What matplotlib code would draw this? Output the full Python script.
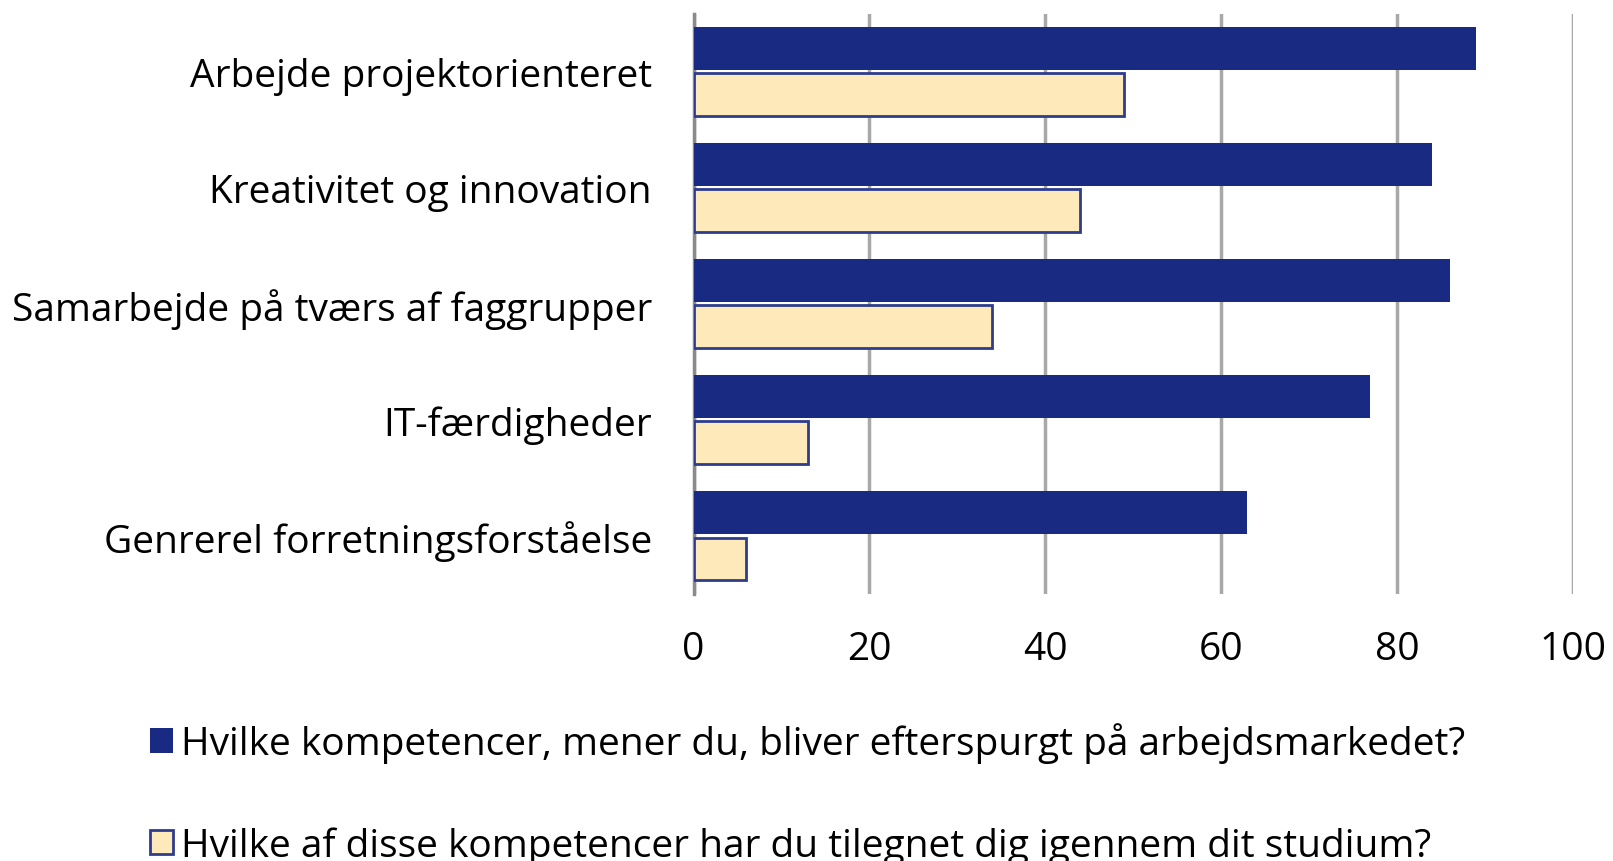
import matplotlib.pyplot as plt
import numpy as np

# Data ------------------------------------------------------------------------
kompetencer = ['Arbejde projektorienteret', 'Kreativitet og innovation',
               'Samarbejde på tværs af faggrupper', 'IT-færdigheder',
               'Genrerel forretningsforståelse']
efterspurgt = [89, 84, 86, 77, 63]
tilegnet = [49, 44, 34, 13, 6]
serie_navne = ['Hvilke kompetencer, mener du, bliver efterspurgt på arbejdsmarkedet?',
               'Hvilke af disse kompetencer har du tilegnet dig igennem dit studium?']
x_ticks = [0, 20, 40, 60, 80, 100]

plt.rcParams['font.family'] = ['Open Sans', 'DejaVu Sans']

# Build Plot ------------------------------------------------------------------
fig = plt.figure(figsize=(16.13, 8.62), dpi=100)
ax = fig.add_axes([0.430, 0.310, 0.545, 0.673])

y_pos = np.arange(len(kompetencer))
h = 0.37
b1 = ax.barh(y_pos - 0.2, efterspurgt, height=h, color='#182A82', zorder=3,
             label=serie_navne[0])
b2 = ax.barh(y_pos + 0.2, tilegnet, height=h, color='#FDE9BA', edgecolor='#2E3C8E',
             linewidth=2, zorder=3, label=serie_navne[1])

ax.set_xlim(0, 100)
ax.set_ylim(len(kompetencer) - 0.5, -0.5)
ax.set_xticks(x_ticks)
ax.set_yticks(y_pos)
ax.set_yticklabels(kompetencer)
ax.tick_params(axis='both', length=0, labelsize=28, colors='black')
ax.tick_params(axis='x', pad=26)
ax.tick_params(axis='y', pad=30)
ax.xaxis.grid(True, color='#a8a8a8', linewidth=2.5, zorder=0)
for s in ['top', 'right', 'bottom']:
    ax.spines[s].set_visible(False)
ax.spines['left'].set_color('#8a8a8a')
ax.spines['left'].set_linewidth(2.5)

fig.legend(handles=[b1, b2], loc='upper left', bbox_to_anchor=(0.093, 0.161),
           frameon=False, fontsize=28, handlelength=0.6, handleheight=0.6,
           handletextpad=0.2, labelspacing=1.62, borderaxespad=0, borderpad=0)

plt.savefig('out.png', dpi=100)
